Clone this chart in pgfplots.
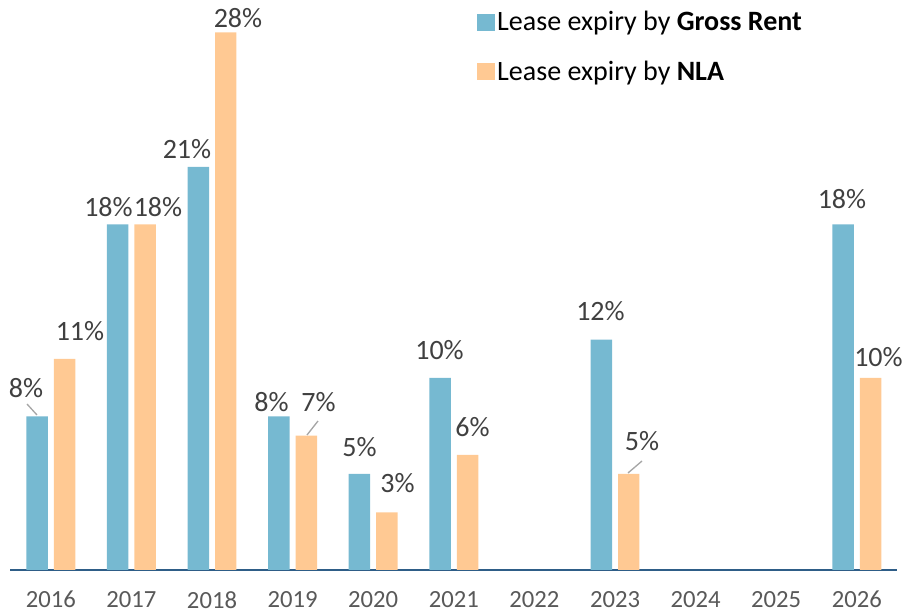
\documentclass[border=0pt]{standalone}
\usepackage{fontspec}
\setmainfont{Carlito}
\usepackage{pgfplots}
\pgfplotsset{compat=1.18}
\definecolor{barblue}{HTML}{76B9D1}
\definecolor{barorange}{HTML}{FFC993}
\definecolor{axblue}{HTML}{2E5D87}
\definecolor{ticktext}{HTML}{595959}
\definecolor{labtext}{HTML}{404040}
\definecolor{leader}{HTML}{A6A6A6}
\begin{document}
\begin{tikzpicture}
\begin{axis}[
  scale only axis,
  width=664.95pt, height=427.5pt,
  xmin=-0.5, xmax=10.5,
  ymin=0, ymax=29.6875,
  ybar=4.5pt,
  bar width=16.1pt,
  axis y line=none,
  axis x line*=bottom,
  x axis line style={draw=axblue, line width=1.3pt, -},
  xtick={0,...,10},
  xticklabels={2016,2017,2018,2019,2020,2021,2022,2023,2024,2025,2026},
  xtick style={draw=none},
  xticklabel style={font=\fontsize{18.5pt}{20pt}\selectfont, text=ticktext, anchor=north, inner sep=0pt, yshift=-11.5pt},
  /pgf/number format/assume math mode=true,
  clip=false,
  legend style={at={(rel axis cs:0.5261,0.985)}, anchor=north west, draw=none, fill=none,
    font=\fontsize{21pt}{24pt}\selectfont, inner sep=0pt, row sep=17pt,
    cells={anchor=west}},
  legend image code/.code={\fill[#1] (0pt,-6.5pt) rectangle (13pt,6.5pt);},
]
\addplot[fill=barblue, draw=none] coordinates {(0,8) (1,18) (2,21) (3,8) (4,5) (5,10) (7,12) (10,18)};
\addlegendentry{Lease expiry by \textbf{Gross Rent}}
\addplot[fill=barorange, draw=none] coordinates {(0,11) (1,18) (2,28) (3,7) (4,3) (5,6) (7,5) (10,10)};
\addlegendentry{Lease expiry by \textbf{NLA}}

\begin{scope}[every node/.style={font=\fontsize{21pt}{24pt}\selectfont, text=labtext, inner sep=0pt, anchor=center}]
\node at (axis cs:-0.3077,9.479) {8\%};
\node at (axis cs:0.3623,12.448) {11\%};
\node at (axis cs:0.7159,18.880) {18\%};
\node at (axis cs:1.330,18.880) {18\%};
\node at (axis cs:1.6898,21.927) {21\%};
\node at (axis cs:2.3226,28.75) {28\%};
\node at (axis cs:2.7382,8.724) {8\%};
\node at (axis cs:3.3213,8.724) {7\%};
\node at (axis cs:3.830,6.406) {5\%};
\node at (axis cs:4.3015,4.505) {3\%};
\node at (axis cs:4.8226,11.432) {10\%};
\node at (axis cs:5.232,7.422) {6\%};
\node at (axis cs:6.820,13.464) {12\%};
\node at (axis cs:7.335,6.719) {5\%};
\node at (axis cs:9.816,19.297) {18\%};
\node at (axis cs:10.269,11.094) {10\%};
\end{scope}
\draw[leader, line width=1pt] (axis cs:-0.2953,8.646) -- (axis cs:-0.1712,8.073);
\draw[leader, line width=1pt] (axis cs:3.315,7.760) -- (axis cs:3.1787,7.031);
\draw[leader, line width=1pt] (axis cs:7.335,5.677) -- (axis cs:7.161,5.052);
\end{axis}
\pgfresetboundingbox
\path (-7.875pt,-32.25pt) rectangle (670.125pt,427.5pt);
\end{tikzpicture}
\end{document}
